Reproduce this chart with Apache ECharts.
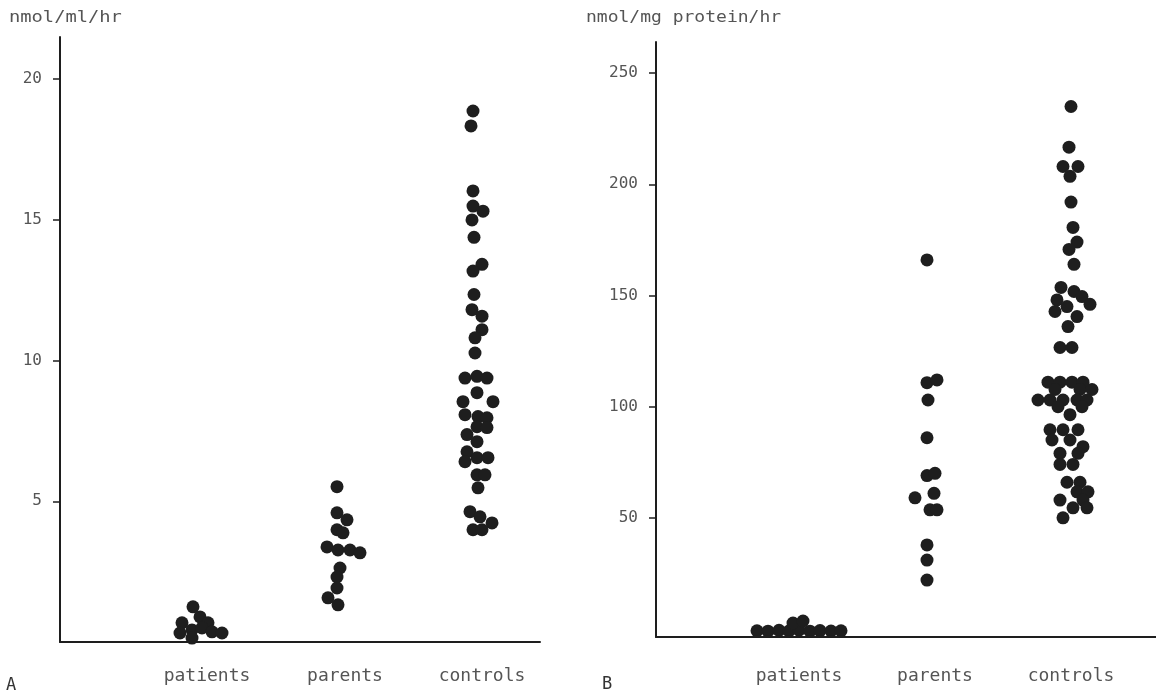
<!DOCTYPE html>
<html>
<head>
<meta charset="utf-8">
<title>nmol/ml/hr - nmol/mg protein/hr</title>
<script src="https://cdn.jsdelivr.net/npm/echarts@6.0.0/dist/echarts.min.js"></script>
<style>
    html, body { margin: 0; padding: 0; background: #ffffff; }
    #chart { width: 1156px; height: 695px; }
</style>
</head>
<body>
<div id="chart"></div>
<script>
// categories + tick labels
var categories = ['patients', 'parents', 'controls'];
var yTicksA = [5, 10, 15, 20];
var yTicksB = [50, 100, 150, 200, 250];

// every dot: [sideways jitter, value]  (panel A: nmol/ml/hr)
var patientsA = [[-0.4, 1.25], [0.3, 0.89], [-1.5, 0.68], [1.1, 0.68], [-1.7, 0.32], [-0.5, 0.43],
    [0.5, 0.5], [1.5, 0.36], [2.5, 0.32], [-0.5, 0.14]];
var parentsA = [[0, 5.52], [0, 4.59], [1.0, 4.34], [0, 3.99], [0.6, 3.88], [-1.0, 3.38], [0.1, 3.27],
    [1.3, 3.27], [2.3, 3.17], [0.3, 2.63], [0, 2.31], [0, 1.92], [-0.9, 1.57], [0.1, 1.32]];
var controlsA = [[-0.5, 18.87], [-0.7, 18.34], [-0.5, 16.03], [-0.5, 15.49], [0.5, 15.31], [-0.6, 15.0],
    [-0.4, 14.38], [0.4, 13.42], [-0.5, 13.18], [-0.4, 12.35], [-0.6, 11.81], [0.4, 11.58], [0.4, 11.1],
    [-0.3, 10.81], [-0.3, 10.27], [-1.3, 9.38], [-0.1, 9.44], [0.9, 9.38], [-0.1, 8.86], [-1.5, 8.54],
    [1.5, 8.54], [-1.3, 8.08], [0, 8.01], [0.9, 7.97], [-0.1, 7.65], [0.9, 7.62], [-1.1, 7.37],
    [-0.1, 7.12], [-1.1, 6.76], [-1.3, 6.41], [-0.1, 6.55], [1.0, 6.55], [-0.1, 5.94], [0.7, 5.94],
    [0, 5.48], [-0.8, 4.63], [0.2, 4.45], [1.4, 4.23], [-0.5, 3.99], [0.4, 3.99]];

// panel B: nmol/mg protein/hr
var patientsB = [[-4.0, -0.8], [-2.9, -1.0], [-1.8, -0.6], [-0.8, -0.9], [0.2, -0.5], [1.3, -1.0],
    [2.3, -0.7], [3.4, -0.9], [4.4, -0.8], [-0.4, 2.7], [0.6, 3.6]];
var parentsB = [[0, 166], [0, 110.8], [1.0, 112], [0.1, 103], [0, 86], [0, 69], [0.8, 70], [-1.2, 59],
    [0.7, 61], [0.3, 53.6], [1.0, 53.6], [0, 37.8], [0, 31], [0, 22]];
var controlsB = [[-0.1, 235], [-0.3, 216.7], [-0.9, 208], [0.6, 208], [-0.2, 203.6], [-0.1, 192],
    [0.1, 180.6], [0.5, 174], [-0.3, 170.7], [0.2, 164], [-1.1, 153.6], [0.2, 151.8], [1.0, 149.5],
    [-1.5, 148], [1.8, 146], [-0.5, 145], [-1.7, 142.8], [0.5, 140.5], [-0.4, 136], [-1.2, 126.6],
    [0, 126.6], [-2.4, 111], [-1.2, 111], [0, 111], [1.1, 111], [-1.7, 107.7], [0.8, 107.7],
    [2.0, 107.7], [-3.4, 103], [-2.2, 103], [-0.9, 103], [0.5, 103], [1.5, 103], [-1.4, 100],
    [1.0, 100], [-0.2, 96.4], [-2.2, 89.6], [-0.9, 89.6], [0.6, 89.6], [-2.0, 85], [-0.2, 85],
    [1.1, 82], [-1.2, 79], [0.6, 79], [-1.2, 74], [0.1, 74], [-0.5, 66], [0.8, 66], [0.5, 61.7],
    [1.6, 61.7], [-1.2, 58], [1.1, 58], [0.1, 54.5], [1.5, 54.5], [-0.9, 50]];

// where each group sits on its (0..48 / 0..50) horizontal axis
var dotCentersA = [13.7, 27.7, 41.8];
var labelCentersA = [14.7, 28.5, 42.2];
var dotCentersB = [14.1, 27.1, 41.6];
var labelCentersB = [14.3, 27.9, 41.5];

var INK = '#1e1e1e';
var TEXT = '#555555';
var MONO = '"DejaVu Sans Mono", "Liberation Mono", monospace';

function placeDots(points, center) {
    return points.map(function(p) {
        return [center + p[0], p[1]];
    });
}

function nameAt(centers) {
    return function(value) {
        var best = 0;
        for (var i = 1; i < centers.length; i++) {
            if (Math.abs(centers[i] - value) < Math.abs(centers[best] - value)) {
                best = i;
            }
        }
        return categories[best];
    };
}

function genXAxis(gridIndex, max, labelCenters, labelMargin) {
    return {
        type: 'value',
        gridIndex: gridIndex,
        min: 0,
        max: max,
        axisLine: { show: true, onZero: false, lineStyle: { color: INK, width: 2 } },
        axisTick: { show: false },
        splitLine: { show: false },
        axisLabel: {
            customValues: labelCenters,
            formatter: nameAt(labelCenters),
            margin: labelMargin,
            color: TEXT,
            fontFamily: MONO,
            fontSize: 18
        }
    };
}

// two y axes per panel: one carries labels + outer ticks, the other only inner ticks
function genYAxes(gridIndex, min, max, ticks) {
    return [
        {
            type: 'value',
            gridIndex: gridIndex,
            min: min,
            max: max,
            axisLine: { show: true, onZero: false, lineStyle: { color: INK, width: 2 } },
            axisTick: { show: true, customValues: ticks, length: 7, lineStyle: { color: INK, width: 1.5 } },
            splitLine: { show: false },
            axisLabel: {
                customValues: ticks,
                margin: 18,
                color: TEXT,
                fontFamily: MONO,
                fontSize: 16
            }
        },
        {
            type: 'value',
            gridIndex: gridIndex,
            min: min,
            max: max,
            axisLine: { show: false },
            axisTick: { show: true, inside: true, customValues: ticks, length: 7, lineStyle: { color: INK, width: 1.5 } },
            splitLine: { show: false },
            axisLabel: { show: false }
        }
    ];
}

function genDotSeries(name, xAxisIndex, yAxisIndex, data) {
    return {
        name: name,
        type: 'scatter',
        xAxisIndex: xAxisIndex,
        yAxisIndex: yAxisIndex,
        symbol: 'circle',
        symbolSize: 13,
        itemStyle: { color: INK, opacity: 1 },
        data: data
    };
}

var myChart = echarts.init(document.getElementById('chart'), null, { renderer: 'canvas' });

var yAxesA = genYAxes(0, 0, 21.5, yTicksA);
var yAxesB = genYAxes(1, -3.6, 264, yTicksB);

var option = {
    animation: false,
    backgroundColor: '#ffffff',
    grid: [
        { left: 60, top: 37, width: 480, height: 605 },
        { left: 656, top: 42, width: 500, height: 595 }
    ],
    xAxis: [
        genXAxis(0, 48, labelCentersA, 25),
        genXAxis(1, 50, labelCentersB, 30)
    ],
    yAxis: [yAxesA[0], yAxesA[1], yAxesB[0], yAxesB[1]],
    series: [
        genDotSeries('patients A', 0, 0, placeDots(patientsA, dotCentersA[0])),
        genDotSeries('parents A', 0, 0, placeDots(parentsA, dotCentersA[1])),
        genDotSeries('controls A', 0, 0, placeDots(controlsA, dotCentersA[2])),
        genDotSeries('patients B', 1, 2, placeDots(patientsB, dotCentersB[0])),
        genDotSeries('parents B', 1, 2, placeDots(parentsB, dotCentersB[1])),
        genDotSeries('controls B', 1, 2, placeDots(controlsB, dotCentersB[2]))
    ],
    graphic: [
        { type: 'text', left: 9, top: 11, scaleX: 1.25, style: { text: 'nmol/ml/hr', fill: TEXT, font: '15px ' + MONO } },
        { type: 'text', left: 586, top: 11, scaleX: 1.2, style: { text: 'nmol/mg protein/hr', fill: TEXT, font: '15px ' + MONO } },
        { type: 'text', left: 6, top: 677, style: { text: 'A', fill: '#333333', font: '17px ' + MONO } },
        { type: 'text', left: 602, top: 676, style: { text: 'B', fill: '#333333', font: '17px ' + MONO } }
    ]
};

myChart.setOption(option);
</script>
</body>
</html>
